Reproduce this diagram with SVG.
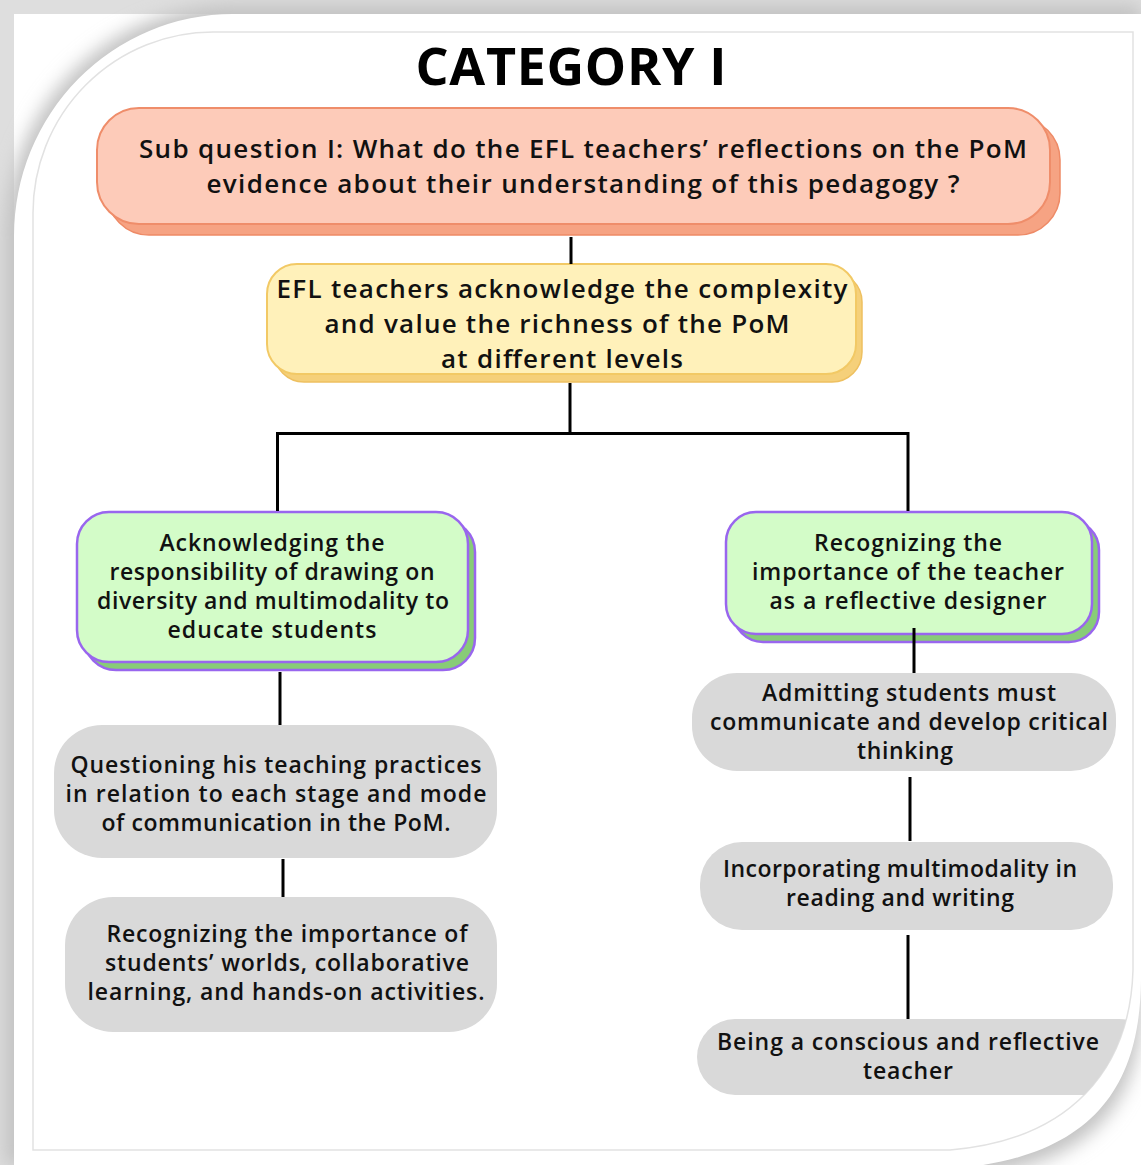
<svg xmlns="http://www.w3.org/2000/svg" width="1141" height="1165" viewBox="0 0 1141 1165">
<defs>
<style>
text{font-family:"Open Sans","Liberation Sans",sans-serif;font-weight:600;fill:#111;text-anchor:middle}
.t1{font-size:26px}
.t2{font-size:23px}
.title{font-size:52px;font-weight:700;fill:#000}
.con{stroke:#000;stroke-width:3;fill:none}
.gray{fill:#d9d9d9}
.gmain{fill:#d3fcc8;stroke:#9966ee;stroke-width:2.5}
.gsh{fill:#88cc77;stroke:#9966ee;stroke-width:2.5}
</style>
<filter id="blur" x="-10%" y="-10%" width="120%" height="120%"><feGaussianBlur stdDeviation="9"/></filter>
<clipPath id="innerclip"><path d="M33,1150 L33,213 A180,181 0 0 1 213,32 L1133,32 L1133,970 C1130,1070 1070,1140 950,1150 Z"/></clipPath>
</defs>
<rect width="1141" height="1165" fill="#ffffff"/>
<rect x="0" y="0" width="1141" height="14" fill="#dedede"/>
<rect x="0" y="0" width="14" height="1165" fill="#dedede"/>
<path d="M5,1165 L5,236 A228,231 0 0 1 233,5 L1141,5 L1141,980 C1148,1098 1098,1166 960,1178 Z" fill="#c2c2c2" filter="url(#blur)"/>
<path d="M14,1165 L14,236 A219,222 0 0 1 233,14 L1141,14 L1141,980 C1140,1090 1090,1155 960,1168 L960,1165 Z" fill="#ffffff"/>
<path d="M33,1150 L33,213 A180,181 0 0 1 213,32 L1133,32 L1133,970 C1130,1070 1070,1140 950,1150 Z" fill="none" stroke="#e2e2e2" stroke-width="1.5"/>

<text class="title" x="571" y="85" textLength="311" lengthAdjust="spacing">CATEGORY I</text>

<g id="node-subquestion">
<rect x="107" y="118" width="953" height="117" rx="42" fill="#f6a383" stroke="#ee8a66" stroke-width="1.5"/>
<rect x="97" y="108" width="953" height="116" rx="42" fill="#fdcbb9" stroke="#ef8d6a" stroke-width="2"/>
<text class="t1" x="583" y="158" textLength="888" lengthAdjust="spacing">Sub question I: What do the EFL teachers’ reflections on the PoM</text>
<text class="t1" x="583" y="193" textLength="753" lengthAdjust="spacing">evidence about their understanding of this pedagogy ?</text>
</g>

<g id="node-efl">
<rect x="274" y="272" width="588" height="110" rx="30" fill="#f5d07a" stroke="#eec060" stroke-width="1.5"/>
<rect x="267" y="264" width="589" height="110" rx="30" fill="#fff1ba" stroke="#f2c965" stroke-width="2"/>
<text class="t1" x="562" y="298" textLength="571" lengthAdjust="spacing">EFL teachers acknowledge the complexity</text>
<text class="t1" x="557" y="333" textLength="465" lengthAdjust="spacing">and value the richness of the PoM</text>
<text class="t1" x="562" y="368" textLength="242" lengthAdjust="spacing">at different levels</text>
</g>

<g id="node-acknowledging">
<rect x="84" y="520" width="391" height="150" rx="32" class="gsh"/>
<rect x="77" y="512" width="391" height="150" rx="32" class="gmain"/>
<text class="t2" x="272" y="551" textLength="225" lengthAdjust="spacing">Acknowledging the</text>
<text class="t2" x="272" y="580" textLength="325" lengthAdjust="spacing">responsibility of drawing on</text>
<text class="t2" x="273" y="609" textLength="352" lengthAdjust="spacing">diversity and multimodality to</text>
<text class="t2" x="272" y="638" textLength="209" lengthAdjust="spacing">educate students</text>
</g>

<g id="node-recognizing-teacher">
<rect x="733" y="520" width="366" height="122" rx="30" class="gsh"/>
<rect x="726" y="512" width="366" height="122" rx="30" class="gmain"/>
<text class="t2" x="908" y="551" textLength="188" lengthAdjust="spacing">Recognizing the</text>
<text class="t2" x="908" y="580" textLength="312" lengthAdjust="spacing">importance of the teacher</text>
<text class="t2" x="908" y="609" textLength="277" lengthAdjust="spacing">as a reflective designer</text>
</g>

<g id="node-questioning">
<rect x="54" y="725" width="443" height="133" rx="48" class="gray"/>
<text class="t2" x="276" y="773" textLength="411" lengthAdjust="spacing">Questioning his teaching practices</text>
<text class="t2" x="276" y="802" textLength="421" lengthAdjust="spacing">in relation to each stage and mode</text>
<text class="t2" x="276" y="831" textLength="349" lengthAdjust="spacing">of communication in the PoM.</text>
</g>

<g id="node-recognizing-worlds">
<rect x="65" y="897" width="432" height="135" rx="48" class="gray"/>
<text class="t2" x="287" y="942" textLength="361" lengthAdjust="spacing">Recognizing the importance of</text>
<text class="t2" x="287" y="971" textLength="364" lengthAdjust="spacing">students’ worlds, collaborative</text>
<text class="t2" x="286" y="1000" textLength="397" lengthAdjust="spacing">learning, and hands-on activities.</text>
</g>

<g id="node-admitting">
<rect x="692" y="673" width="424" height="98" rx="45" class="gray"/>
<text class="t2" x="909" y="701" textLength="294" lengthAdjust="spacing">Admitting students must</text>
<text class="t2" x="909" y="730" textLength="398" lengthAdjust="spacing">communicate and develop critical</text>
<text class="t2" x="905" y="759" textLength="96" lengthAdjust="spacing">thinking</text>
</g>

<g id="node-incorporating">
<rect x="700" y="842" width="413" height="88" rx="42" class="gray"/>
<text class="t2" x="900" y="877" textLength="354" lengthAdjust="spacing">Incorporating multimodality in</text>
<text class="t2" x="900" y="906" textLength="228" lengthAdjust="spacing">reading and writing</text>
</g>

<g id="node-being">
<rect x="697" y="1019" width="460" height="76" rx="38" class="gray" clip-path="url(#innerclip)"/>
<text class="t2" x="908" y="1050" textLength="382" lengthAdjust="spacing">Being a conscious and reflective</text>
<text class="t2" x="908" y="1079" textLength="90" lengthAdjust="spacing">teacher</text>
</g>

<g id="connectors">
<line class="con" x1="571" y1="237" x2="571" y2="264"/>
<line class="con" x1="570" y1="383" x2="570" y2="434"/>
<line class="con" x1="276" y1="433.5" x2="909" y2="433.5"/>
<line class="con" x1="277.5" y1="432" x2="277.5" y2="511"/>
<line class="con" x1="908" y1="432" x2="908" y2="511"/>
<line class="con" x1="280" y1="672" x2="280" y2="725"/>
<line class="con" x1="283" y1="859" x2="283" y2="897"/>
<line class="con" x1="914" y1="628" x2="914" y2="673"/>
<line class="con" x1="910" y1="777" x2="910" y2="841"/>
<line class="con" x1="908" y1="935" x2="908" y2="1019"/>
</g>
</svg>
